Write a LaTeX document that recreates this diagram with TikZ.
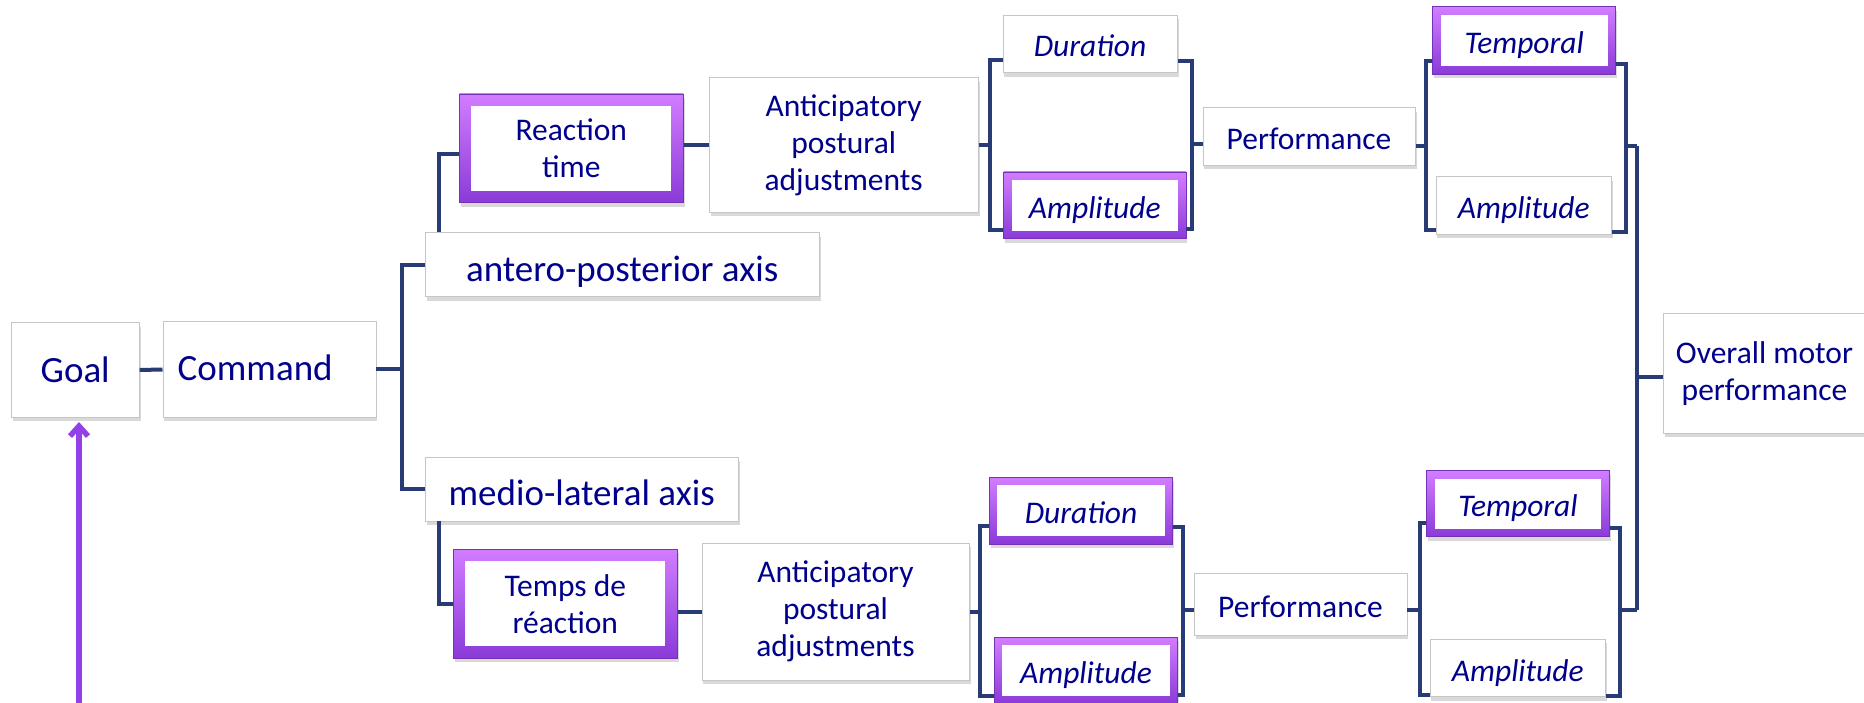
\documentclass[tikz,border=0pt]{standalone}
\usepackage{fontspec}
\setmainfont{Carlito}
\usepackage{tikz}
\usetikzlibrary{calc,shadows,arrows.meta}

\definecolor{txtblue}{RGB}{0,0,140}
\definecolor{linkblue}{RGB}{39,59,119}
\definecolor{fbpurple}{RGB}{147,64,232}
\definecolor{hitop}{RGB}{210,125,255}
\definecolor{hibot}{RGB}{138,58,216}

\begin{document}
\begin{tikzpicture}[x=1pt,y=-1pt,
  box/.style={draw=gray!45,fill=white,text=txtblue,align=center,inner sep=2pt,
    drop shadow={shadow xshift=1.5pt,shadow yshift=-4pt,opacity=.3}},
  hibox/.style={box,draw=hibot!85!black,line width=.6pt,top color=hitop,bottom color=hibot,
    path picture={\fill[white] ($(path picture bounding box.north west)+(#1,#1)$)
      rectangle ($(path picture bounding box.south east)+(-#1,-#1)$);}},
  hibox/.default=8,
  dims/.style 2 args={minimum width=#1pt,minimum height=#2pt},
  oneline/.style={text height=#1pt,text depth=0pt},
  oneline/.default=26,
  bigtext/.style={font=\fontsize{37pt}{44pt}\selectfont},
  smalltext/.style={font=\fontsize{31.5pt}{37pt}\selectfont},
  slanted/.style={font=\fontsize{31.5pt}{37pt}\selectfont\itshape,oneline},
  link/.style={draw=linkblue,line width=4pt},
  feedback/.style={draw=fbpurple,line width=5.5pt,-{Straight Barb[length=10pt,width=18pt]}}]
  \useasboundingbox (0,0) rectangle (1864,703);

  \node[box,bigtext,oneline=25,dims={128.3}{94.6}]  (goal)    at (75.2,370)    {Goal};
  \node[box,bigtext,oneline=23,align=left,text width=183pt,inner xsep=15pt,minimum height=95.6pt]
                                                (cmd)     at (269.2,369.5) {Command};
  \node[box,bigtext,oneline=34,dims={394.3}{64}] (antero)  at (622.2,264.7) {antero-posterior axis};
  \node[box,bigtext,oneline=34,dims={313.3}{64}] (medio)   at (581.7,488.7) {medio-lateral axis};

  \node[hibox=12,smalltext,dims={224}{108.7}]   (react1)  at (571.3,148.3) {Reaction\\time};
  \node[box,smalltext,dims={269.3}{134.8}]      (apa1)    at (843.7,145.1) {Anticipatory\\postural\\adjustments};
  \node[box,slanted,dims={174.6}{57.7}]         (dur1)    at (1090,43.8)   {Duration};
  \node[hibox,slanted,dims={182.3}{66.7}]       (amp1)    at (1094.8,205.3) {Amplitude};
  \node[box,smalltext,oneline=27,dims={212.6}{57.3}] (perf1) at (1309,136.3) {Performance};
  \node[hibox,slanted,dims={183}{67.3}]         (temp1)   at (1524.2,40.3) {Temporal};
  \node[box,slanted,dims={175.7}{57.3}]         (ampr1)   at (1523.8,205.3) {Amplitude};

  \node[hibox=12,smalltext,dims={224}{109.3}]   (react2)  at (565.3,603.7) {Temps de\\réaction};
  \node[box,smalltext,dims={267.6}{136.7}]      (apa2)    at (835.5,611.7) {Anticipatory\\postural\\adjustments};
  \node[hibox,slanted,dims={183.4}{66.7}]       (dur2)    at (1081,510.7)  {Duration};
  \node[hibox,slanted,dims={183.4}{66.7}]       (amp2)    at (1086,670.7)  {Amplitude};
  \node[box,smalltext,oneline=27,dims={212.4}{61.7}] (perf2) at (1300.5,604) {Performance};
  \node[hibox,slanted,dims={182.6}{66}]         (temp2)   at (1518,503.7)  {Temporal};
  \node[box,slanted,dims={175.7}{57.3}]         (ampr2)   at (1517.8,668)  {Amplitude};

  \node[box,smalltext,dims={203}{120}]          (overall) at (1764.5,373.3) {Overall motor\\performance};

  % goal, command and the two axes
  \draw[link] (goal.east) -- (cmd.west);
  \draw[link] (cmd.east) -- ++(26,0) coordinate (c1) |- (antero.west);
  \draw[link] (c1) |- (medio.west);
  \draw[link] ([xshift=14pt]antero.north west) |- ([yshift=-6pt]react1.west);
  \draw[link] ([xshift=14.3pt]medio.south west) |- (react2.west);

  % upper branch
  \draw[link] (react1.east |- apa1.west) -- (apa1.west);
  \draw[link] (apa1.east) -- ++(11,0) coordinate (b1);
  \draw[link] ([yshift=-16pt]dur1.west) -| (b1) |- ([yshift=-24.5pt]amp1.west);
  \draw[link] ([yshift=-8pt]perf1.west) -- ++(-10.5,0) coordinate (b2);
  \draw[link] ([yshift=-17pt]dur1.east) -| (b2) |- ([yshift=-24pt]amp1.east);
  \draw[link] ([yshift=-9.4pt]perf1.east) -- ++(10.4,0) coordinate (b3);
  \draw[link] ([yshift=-20.4pt]temp1.west) -| (b3) |- ([yshift=-24.7pt]ampr1.west);
  \draw[link] ([yshift=-23.7pt]temp1.east) -- ++(10,0) coordinate (b4) |- ([yshift=-26.4pt]ampr1.east);
  \draw[link] (b4 |- b3) -- ++(11,0) coordinate (b5);

  % lower branch
  \draw[link] (react2.east |- apa2.west) -- (apa2.west);
  \draw[link] (apa2.east) -- ++(10.7,0) coordinate (b6);
  \draw[link] ([yshift=-15.3pt]dur2.west) -| (b6) |- ([yshift=-25.3pt]amp2.west);
  \draw[link] ([yshift=-6pt]perf2.west) -- ++(-11,0) coordinate (b7);
  \draw[link] ([yshift=-16pt]dur2.east) -| (b7) |- ([yshift=-24.3pt]amp2.east);
  \draw[link] ([yshift=-6pt]perf2.east) -- ++(12.6,0) coordinate (b8);
  \draw[link] ([yshift=-19.6pt]temp2.west) -| (b8) |- ([yshift=-27pt]ampr2.west);
  \draw[link] ([yshift=-24.6pt]temp2.east) -- ++(10,0) coordinate (b9) |- ([yshift=-28pt]ampr2.east);
  \draw[link] (b9 |- b8) -- ++(17,0) coordinate (b10);

  % both branches into the overall score
  \draw[link] (b5) -- (b5 |- b10);
  \draw[link] ([yshift=-3.4pt]overall.west) -- ([yshift=-3.4pt]overall.west -| b5);

  \coordinate (fbin) at (79,712);
  \draw[feedback] (fbin) -- ([xshift=3.8pt,yshift=-4.5pt]goal.south);
\end{tikzpicture}
\end{document}
